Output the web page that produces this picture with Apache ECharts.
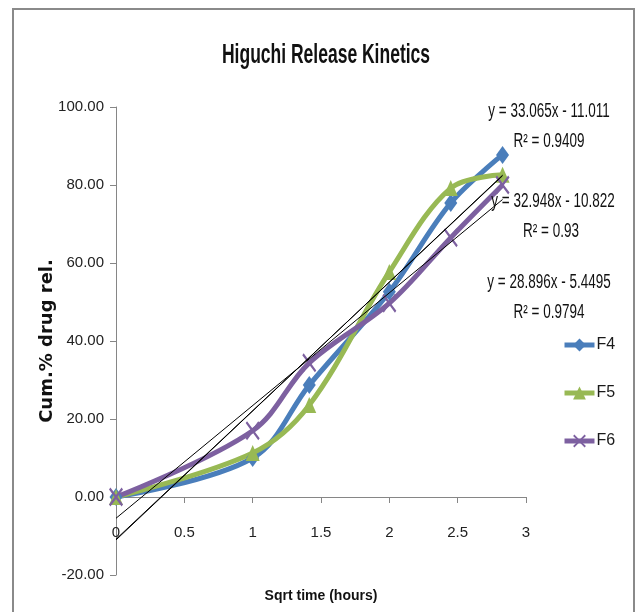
<!DOCTYPE html>
<html>
<head>
<meta charset="utf-8">
<script src="https://cdn.jsdelivr.net/npm/echarts@6/dist/echarts.min.js"></script>
<style>
  html, body { margin: 0; padding: 0; background: #fff; }
  #chart { width: 638px; height: 612px; }
</style>
</head>
<body>
<div id="chart"></div>
<script>
// Square root of sampling time (hours): sqrt(0), sqrt(1), sqrt(2), sqrt(4), sqrt(6), sqrt(8)
const sqrtTime = [0, 1, 1.4142, 2, 2.4495, 2.8284];

// Cumulative % drug released per formulation
const seriesNames = ['F4', 'F5', 'F6'];
const f4 = [0, 10, 28.7, 52.6, 75.4, 87.7];
const f5 = [0, 11.3, 23.6, 57.7, 79.2, 82.6];
const f6 = [0, 17, 34.4, 49.7, 66.5, 80];

// Linear trend lines (slope, intercept, R²)
const trendSlope = [33.065, 32.948, 28.896];
const trendIntercept = [-11.011, -10.822, -5.4495];
const trendR2 = ['0.9409', '0.93', '0.9794'];

// Axis ticks
const xTicks = { min: 0, max: 3, step: 0.5 };
const yTicks = { min: -20, max: 100, step: 20 };

const colors = ['#4A7EBB', '#98B954', '#7D60A0'];
const sans = '"Liberation Sans", Arial, sans-serif';
const crossPath = 'path://M0,1L1,0L5,4L9,0L10,1L6,5L10,9L9,10L5,6L1,10L0,9L4,5Z';
const symbols = ['diamond', 'triangle', crossPath];
const symbolSizes = [[13, 18], [14, 16], [14, 19]];
const values = [f4, f5, f6];

const chart = echarts.init(document.getElementById('chart'));

const dataSeries = seriesNames.map((name, i) => ({
  name: name,
  type: 'line',
  smooth: 0.35,
  data: sqrtTime.map((x, k) => [x, values[i][k]]),
  symbol: symbols[i],
  symbolSize: symbolSizes[i],
  showAllSymbol: true,
  lineStyle: { width: 5, color: colors[i] },
  itemStyle: { color: colors[i] },
  z: 2
}));

const xEnd = sqrtTime[sqrtTime.length - 1];
const trendSeries = trendSlope.map((m, i) => ({
  name: 'trend' + i,
  type: 'line',
  silent: true,
  symbol: 'none',
  data: [[0, trendIntercept[i]], [xEnd, m * xEnd + trendIntercept[i]]],
  lineStyle: { width: 1, color: '#000' },
  z: 4
}));

function eqText(i) {
  const b = trendIntercept[i];
  return 'y = ' + trendSlope[i] + 'x ' + (b < 0 ? '- ' : '+ ') + Math.abs(b);
}

// Tall, condensed-looking text: horizontal size from the font, height stretched
function tallText(str, x, y, size, bold, stretch) {
  return {
    type: 'text', x: x, y: y, z: 10, scaleY: stretch, silent: true,
    style: {
      text: str,
      font: (bold ? 'bold ' : '') + size + 'px ' + sans,
      fill: '#111', align: 'center', verticalAlign: 'middle'
    }
  };
}

// Trend line equation labels at the right of the plot
const labelPos = [
  { eq: [549, 112], r2: [549, 142] },
  { eq: [553, 202], r2: [551, 232] },
  { eq: [549, 283], r2: [549, 313] }
];
const labelGraphics = [];
labelPos.forEach((p, i) => {
  labelGraphics.push(tallText(eqText(i), p.eq[0], p.eq[1], 13.5, false, 1.45));
  labelGraphics.push(tallText('R² = ' + trendR2[i], p.r2[0], p.r2[1], 13.5, false, 1.45));
});

chart.setOption({
  animation: false,
  backgroundColor: '#fff',
  grid: { left: 116, right: 112, top: 107, bottom: 37, outerBoundsMode: 'none' },
  legend: {
    data: seriesNames,
    orient: 'vertical',
    left: 562,
    top: 337,
    padding: 0,
    itemWidth: 30,
    itemHeight: 16,
    itemGap: 32,
    lineStyle: { width: 5 },
    textStyle: { fontFamily: sans, fontSize: 16, color: '#1a1a1a', padding: [0, 0, 0, -3] }
  },
  xAxis: {
    type: 'value',
    min: xTicks.min,
    max: xTicks.max,
    interval: xTicks.step,
    name: 'Sqrt time (hours)',
    nameLocation: 'middle',
    nameGap: 14,
    nameMoveOverlap: false,
    nameTextStyle: { fontFamily: sans, fontWeight: 'bold', fontSize: 14, color: '#111' },
    axisLine: { onZero: true, lineStyle: { color: '#868686', width: 1 } },
    axisTick: { show: true, length: 6, lineStyle: { color: '#868686' } },
    axisLabel: { margin: -50, fontFamily: sans, fontSize: 15, color: '#222' },
    splitLine: { show: false }
  },
  yAxis: {
    type: 'value',
    min: yTicks.min,
    max: yTicks.max,
    interval: yTicks.step,
    name: 'Cum.% drug rel.',
    nameLocation: 'middle',
    nameRotate: 90,
    nameGap: 60,
    nameMoveOverlap: false,
    nameTextStyle: { fontFamily: '"DejaVu Sans", sans-serif', fontWeight: 'bold', fontSize: 18, color: '#111' },
    axisLine: { show: true, onZero: false, lineStyle: { color: '#868686', width: 1 } },
    axisTick: { show: true, length: 6, lineStyle: { color: '#868686' } },
    axisLabel: { margin: 12, fontFamily: sans, fontSize: 15, color: '#222', formatter: v => v.toFixed(2) },
    splitLine: { show: false }
  },
  graphic: [
    {
      type: 'rect', z: 0, silent: true,
      shape: { x: 13, y: 9, width: 621, height: 700 },
      style: { fill: 'none', stroke: '#8a8a8a', lineWidth: 2 }
    },
    tallText('Higuchi Release Kinetics', 326, 55, 17.5, true, 1.6)
  ].concat(labelGraphics),
  series: dataSeries.concat(trendSeries)
});
</script>
</body>
</html>
